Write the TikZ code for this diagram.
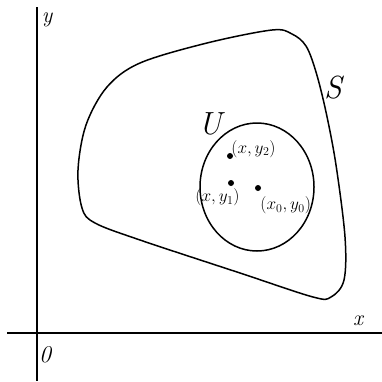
\documentclass[tikz,border=0pt]{standalone}
\usepackage{tikz}
\usetikzlibrary{positioning}

\begin{document}
\begin{tikzpicture}[x=1pt, y=-1pt,
  axis/.style={line width=1.5pt, black},
  curve/.style={line width=1.5pt, black},
  dot/.style={circle, fill=black, inner sep=0pt, minimum size=6pt},
  ptlabel/.style={font=\fontsize{17.28}{18}\selectfont, inner sep=1pt},
  setlabel/.style={font=\fontsize{32}{34}\selectfont\itshape, inner sep=0pt}
]
\useasboundingbox (0,0) rectangle (382,381);
% axes
\coordinate (ytop) at (37,7);
\coordinate (ybot) at (37,381);
\coordinate (xleft) at (7,333);
\coordinate (xright) at (382,333);
\draw[axis] (ytop) -- (ybot);
\draw[axis] (xleft) -- (xright);
\node[font=\fontsize{22}{24}\selectfont\itshape] (ylab) at (47,20) {y};
\node[font=\fontsize{22}{24}\selectfont\itshape] (xlab) at (358,321) {x};
\node[font=\fontsize{24}{26}\selectfont\itshape] (origin) at (45,355) {0};
% region S
\draw[curve] plot[smooth cycle, tension=0.55] coordinates {
  (272,30) (292,34) (306,46) (316,72) (326,112) (336,165) (345,237)
  (344,280) (331,297) (313,297) (240,273) (140,240) (95,223) (82,208)
  (78,170) (86,125) (107,87) (140,63) (207,43)};
\node[setlabel] (S) at (333,88) {S};
% neighbourhood U
\draw[curve] (257,187) ellipse [x radius=57, y radius=64];
\node[setlabel] (U) at (210,124) {U};
% points
\node[dot] (p2) at (230,156) {};
\node[dot] (p1) at (231,183) {};
\node[dot] (p0) at (258,188) {};
\node[ptlabel, above right=-5pt and -2pt of p2] (l2) {$(x,y_2)$};
\node[ptlabel, below left=2pt and -12pt of p1] (l1) {$(x,y_1)$};
\node[ptlabel, below right=5pt and -1pt of p0] (l0) {$(x_0,y_0)$};
\end{tikzpicture}
\end{document}
